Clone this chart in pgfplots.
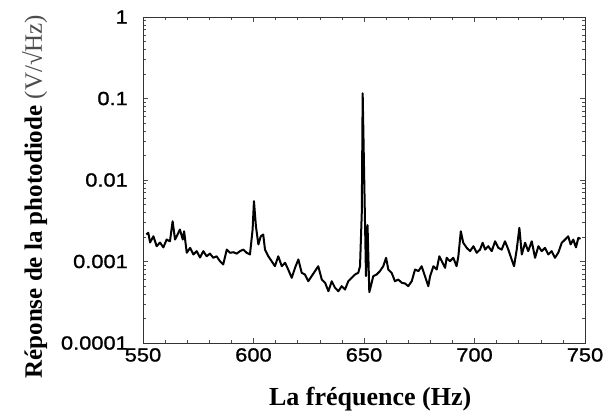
\documentclass[border=0pt]{standalone}
\usepackage{fontspec}
\usepackage{pgfplots}
\pgfplotsset{compat=1.18}
\setmainfont{Liberation Serif}
\newfontfamily\tickfont[FakeStretch=1.15,FakeBold=1.2]{Liberation Sans}
\pgfplotstableread{
x y
551.5 0.00215
552.4 0.00225
553.2 0.00171
554.7 0.00204
556.2 0.00154
557.7 0.00171
559.2 0.00149
560.7 0.00186
562.2 0.00177
563.4 0.00312
564.5 0.00186
566.0 0.00225
566.7 0.00247
568.0 0.00186
568.6 0.00235
569.8 0.00128
571.3 0.00147
572.8 0.00122
574.3 0.00134
575.8 0.00112
577.3 0.00134
578.8 0.00116
580.3 0.00125
581.8 0.00111
583.3 0.00116
584.8 0.00101
586.3 0.00092
587.9 0.00140
589.4 0.00128
590.9 0.00130
592.4 0.00125
593.9 0.00134
595.4 0.00140
596.9 0.00128
598.4 0.00122
599.6 0.00247
600.2 0.0055
601.1 0.00271
602.2 0.00162
603.3 0.00204
604.4 0.00214
605.2 0.00140
606.7 0.00116
608.2 0.00101
609.7 0.000875
611.2 0.00116
612.8 0.000875
614.3 0.000965
615.7 0.000798
617.3 0.000631
618.8 0.000837
620.3 0.00106
621.8 0.000727
623.3 0.000692
624.8 0.000573
626.3 0.000660
627.8 0.000761
629.3 0.000875
630.9 0.000601
632.4 0.000548
633.9 0.000432
635.4 0.000573
636.9 0.000475
638.4 0.000432
639.9 0.000498
641.4 0.000453
642.9 0.000573
644.4 0.000631
645.9 0.000692
647.4 0.000727
648.2 0.000875
649.0 0.0040
649.4 0.116
650.9 0.00066
651.6 0.0028
652.4 0.00042
654.2 0.000660
655.7 0.000692
657.2 0.000761
658.7 0.000875
660.0 0.00111
661.0 0.000798
662.5 0.000727
664.0 0.000573
665.5 0.000601
667.1 0.000548
668.6 0.000537
670.0 0.000498
671.6 0.000573
673.1 0.000798
674.6 0.000761
676.1 0.000875
677.6 0.000660
679.1 0.000498
679.9 0.000660
681.4 0.000875
682.9 0.000798
684.1 0.00116
685.2 0.00101
686.7 0.000837
687.4 0.00111
688.9 0.00101
690.4 0.00111
691.9 0.000875
692.7 0.00116
693.8 0.00235
694.9 0.00170
696.5 0.00147
698.0 0.00134
699.5 0.00154
701.0 0.00128
702.5 0.00140
703.7 0.00170
704.8 0.00140
706.2 0.00154
707.8 0.00134
709.3 0.00177
710.8 0.00147
712.3 0.00140
713.8 0.00177
715.3 0.00140
716.8 0.00106
717.9 0.000875
719.1 0.00140
720.3 0.00259
721.4 0.00122
722.9 0.00170
724.3 0.00134
725.9 0.00177
727.4 0.00111
728.9 0.00154
730.4 0.00134
731.9 0.00147
733.4 0.00122
734.9 0.00134
736.4 0.00111
737.9 0.00128
739.5 0.00170
741.0 0.00186
742.4 0.00204
743.5 0.00162
744.7 0.00186
745.9 0.00149
747.0 0.00195
748.0 0.00190
}\spectrum
\begin{document}
\begin{tikzpicture}
\useasboundingbox (0,0) rectangle (605pt,412pt);
\begin{axis}[
  at={(143pt,69pt)}, anchor=south west,
  scale only axis, width=442pt, height=326pt,
  ymode=log, xmin=550, xmax=750, ymin=1e-4, ymax=1,
  xtick={550,600,650,700,750}, xticklabels={550,600,650,700,750},
  minor x tick num=4,
  ytick={1e-4,1e-3,1e-2,1e-1,1}, yticklabels={0.0001,0.001,0.01,0.1,1},
  tick align=inside, xtick pos=both, ytick pos=both,
  major tick length=5pt, minor tick length=3pt,
  every tick/.style={black!70, line width=0.6pt},
  axis line style={black!80, line width=1pt},
  tick label style={font=\tickfont\fontsize{19}{19}\selectfont},
  yticklabel style={anchor=east, inner sep=0pt, xshift=-15pt},
  xticklabel style={anchor=north, inner sep=0pt, yshift=-5pt},
  xlabel={La fréquence (Hz)},
  ylabel={Réponse de la photodiode \textcolor{black!70}{\mdseries(V/√Hz)}},
  xlabel style={font=\bfseries\fontsize{26}{30}\selectfont, at={(axis description cs:0.514,-0.193)}, anchor=base},
  ylabel style={font=\bfseries\fontsize{25}{30}\selectfont, at={(axis description cs:-0.229,0.449)}, anchor=base},
]
\addplot[black, line width=2pt, line join=round, mark=none] table {\spectrum};
\end{axis}
\end{tikzpicture}
\end{document}
